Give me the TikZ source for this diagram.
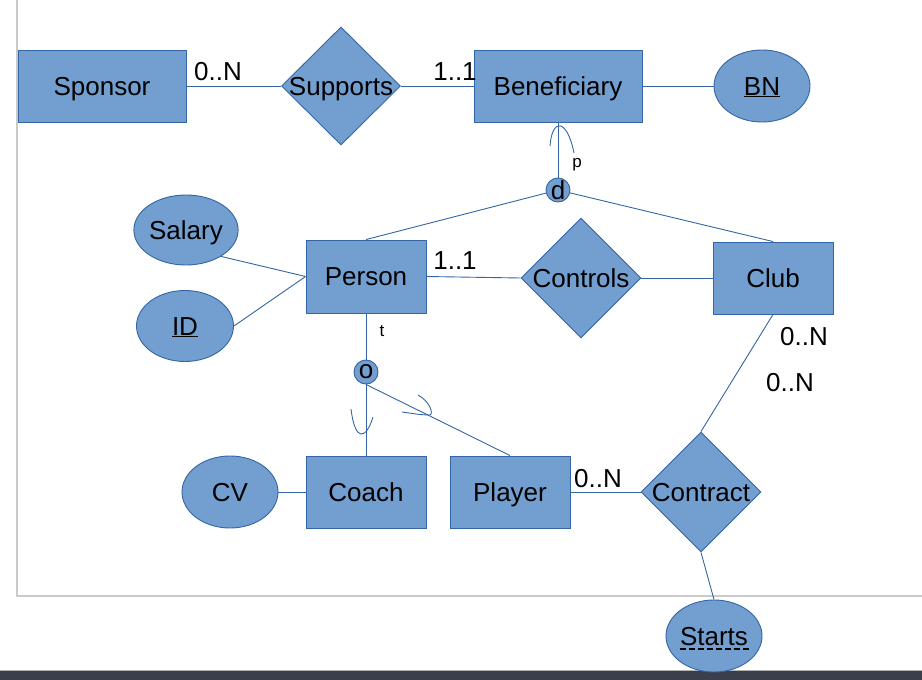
\documentclass[tikz,border=0pt]{standalone}
\usepackage{fontspec}
\setmainfont{Liberation Sans}
\usetikzlibrary{shapes.geometric}
\definecolor{fillb}{HTML}{729FCF}
\definecolor{lineb}{HTML}{3465A4}
\definecolor{frame}{HTML}{CACACA}
\definecolor{barc}{HTML}{3B3F4C}
\begin{document}
\begin{tikzpicture}[x=1pt,y=-1pt,
  font=\fontsize{26}{30}\selectfont,
  conn/.style={draw=lineb, line width=0.9pt},
  txt/.style={text height=21pt, text depth=3pt},
  ctxt/.style={text height=19pt, text depth=5pt},
  ent/.style={rectangle, draw=lineb, fill=fillb, line width=0.9pt, inner sep=0, minimum width=120, minimum height=72, txt},
  attr/.style={ellipse, draw=lineb, fill=fillb, line width=0.9pt, inner sep=0, minimum width=96, minimum height=72, txt},
  rel/.style={diamond, draw=lineb, fill=fillb, line width=0.9pt, inner sep=0, minimum width=120, minimum height=120},
  rlab/.style={label={[txt, inner sep=0]center:#1}},
  isa/.style={circle, draw=lineb, fill=fillb, line width=0.9pt, inner sep=0, minimum size=24},
  card/.style={inner sep=0, ctxt},
  small/.style={inner sep=0, font=\fontsize{17}{20}\selectfont}]
\useasboundingbox (0,0) rectangle (922,680);
% frame
\draw[frame, line width=1.2pt] (17,0) -- (17,596) -- (922,596);
\fill[barc] (0,671) rectangle (922,680);
\draw[gray!60, line width=1pt] (0,670.5) -- (922,670.5);

\node[ent, minimum width=168] (sponsor) at (102,86) {Sponsor};
\node[rel, minimum width=119, minimum height=118, rlab=Supports] (supports) at (341,86) {};
\node[ent, minimum width=168] (benef) at (558,86) {Beneficiary};
\node[attr] (bn) at (762,86) {\underline{BN}};
\node[isa] (d) at (558,190) {d};
\node[ent, minimum height=73] (person) at (366,276.5) {Person};
\node[attr, minimum width=98, minimum height=70] (salary) at (186,230) {Salary};
\node[attr, minimum width=97, minimum height=71] (id) at (185,326) {\underline{ID}};
\node[rel, rlab=Controls] (controls) at (581,278) {};
\node[ent] (club) at (773,278) {Club};
\node[isa] (o) at (366,372) {o};
\node[ent] (coach) at (366,492) {Coach};
\node[attr] (cv) at (230,492) {CV};
\node[ent] (player) at (510,492) {Player};
\node[rel, rlab=Contract] (contract) at (701,492) {};
\node[attr] (starts) at (714,636) {Starts};

\draw[conn] (sponsor) -- (supports);
\draw[conn] (supports) -- (benef);
\draw[conn] (benef) -- (bn);
\draw[conn] (benef.south) -- (d);
\draw[conn] (d) -- (person.north);
\draw[conn] (d) -- (club.north);
\draw[conn] (salary.-37) -- (person.west);
\draw[conn] (id.east) -- (person.west);
\draw[conn] (person.east) -- (controls.west);
\draw[conn] (controls) -- (club);
\draw[conn] (person.south) -- (o);
\draw[conn] (o) -- (coach.north);
\draw[conn] (o.south) -- (player.north);
\draw[conn] (cv) -- (coach);
\draw[conn] (player) -- (contract);
\draw[conn] (club.south) -- (contract.north);
\draw[conn] (contract.south) -- (starts.north);

% subset arcs
\draw[conn] (550,146) .. controls (552,118) and (567,118) .. (574,153);
\draw[conn] (351,409) .. controls (355,442) and (366,440) .. (373,417);
\draw[conn] (418,395) .. controls (429,401) and (434,413) .. (430,415) .. controls (420,415) and (410,413) .. (402,412);

% starts dashed underline
\draw[line width=1.4pt, dash pattern=on 6pt off 3pt] ([xshift=-34.5,yshift=-13]starts.center) -- ([xshift=34.5,yshift=-13]starts.center);

% cardinalities
\node[card] (c1) at (218,73) {0..N};
\node[card] (c2) at (455,73) {1..1};
\node[card] (c3) at (455,262) {1..1};
\node[card] (c4) at (598,480) {0..N};
\node[card] (c5) at (804,338) {0..N};
\node[card] (c6) at (790,384) {0..N};
\node[small] (lp) at (577,165) {p};
\node[small] (lt) at (382,331) {t};
\end{tikzpicture}
\end{document}
